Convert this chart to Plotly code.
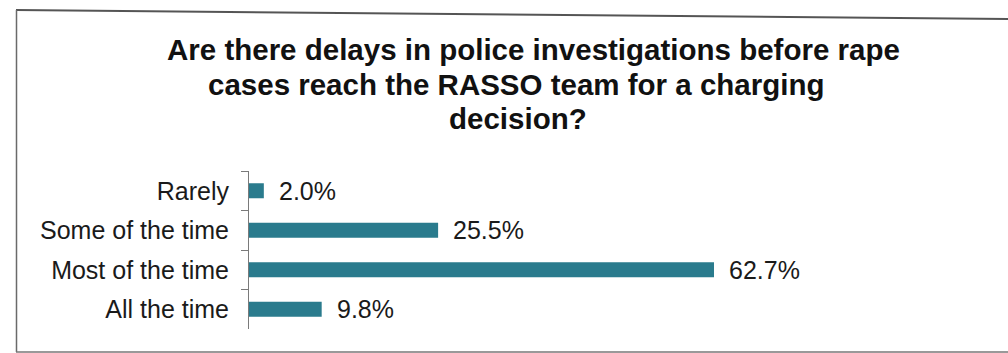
import plotly.graph_objects as go

# Survey responses (percent of respondents)
categories = ["Rarely", "Some of the time", "Most of the time", "All the time"]
values = [2.0, 25.5, 62.7, 9.8]
title_lines = [
    "Are there delays in police investigations before rape",
    "cases reach the RASSO team for a charging",
    "decision?",
]

W, H = 1008, 353
L, R, T, B = 249, 91, 171, 24
PW, PH = W - L - R, H - T - B
PX_PER_UNIT = 465 / 62.7
XMAX = PW / PX_PER_UNIT

FONT = "Liberation Sans, Arial, sans-serif"
BAR = "#2a7b8d"


def px_x(px):
    return (px - L) / PW


def px_y(py):
    return (H - B - py) / PH


fig = go.Figure()
fig.add_trace(
    go.Bar(
        x=values,
        y=categories,
        orientation="h",
        marker=dict(color=BAR, line=dict(width=0)),
        width=0.38,
        hoverinfo="skip",
    )
)

annotations = []
for c, v in zip(categories, values):
    annotations.append(
        dict(
            x=v, y=c, xref="x", yref="y",
            text=f"{v:.1f}%", showarrow=False,
            xanchor="left", yanchor="middle", xshift=13,
            font=dict(family=FONT, size=25, color="#1a1a1a"),
        )
    )

# Title set line by line for tighter leading
for line, cx, py in zip(title_lines, [533, 516, 518], [50, 84.5, 118.5]):
    annotations.append(
        dict(
            x=px_x(cx), y=px_y(py), xref="paper", yref="paper",
            text=f"<b>{line}</b>", showarrow=False,
            xanchor="center", yanchor="middle",
            font=dict(family=FONT, size=29.5, color="#111111"),
        )
    )

shapes = [
    # frame around the chart
    dict(type="line", xref="paper", yref="paper",
         x0=px_x(16), y0=px_y(10), x1=px_x(1010), y1=px_y(19),
         line=dict(color="#555555", width=2)),
    dict(type="line", xref="paper", yref="paper",
         x0=px_x(16.5), y0=px_y(10), x1=px_x(16.5), y1=px_y(352),
         line=dict(color="#6a6a6a", width=1.5)),
    dict(type="line", xref="paper", yref="paper",
         x0=px_x(16), y0=px_y(352), x1=px_x(1010), y1=px_y(352),
         line=dict(color="#777777", width=1.5)),
]

fig.update_layout(
    width=W, height=H,
    margin=dict(l=L, r=R, t=T, b=B, pad=0),
    paper_bgcolor="white", plot_bgcolor="white",
    showlegend=False,
    bargap=0.62,
    xaxis=dict(range=[0, XMAX], visible=False, showgrid=False, zeroline=False),
    yaxis=dict(
        categoryorder="array", categoryarray=categories,
        autorange="reversed",
        showline=True, linecolor="#7a7a7a", linewidth=1,
        ticks="outside", tickson="boundaries", ticklen=7,
        tickcolor="#7a7a7a", tickwidth=1,
        ticklabelstandoff=14,
        tickfont=dict(family=FONT, size=25, color="#1a1a1a"),
        showgrid=False, zeroline=False,
    ),
    annotations=annotations,
    shapes=shapes,
)

fig.write_html("out.html")
